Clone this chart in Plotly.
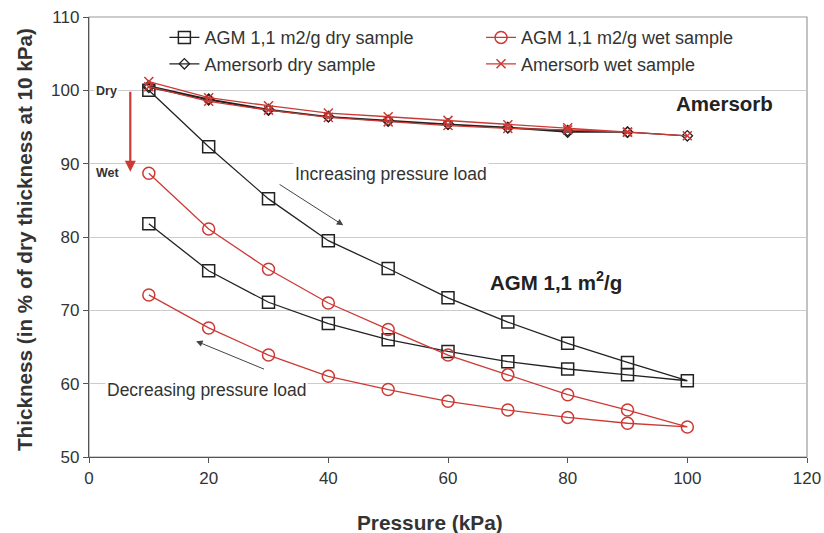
import plotly.graph_objects as go

# Pressure path: loading 10 -> 100 kPa, then unloading 90 -> 10 kPa
pressure = [10, 20, 30, 40, 50, 60, 70, 80, 90, 100, 90, 80, 70, 60, 50, 40, 30, 20, 10]

agm_dry = [100.0, 92.3, 85.2, 79.5, 75.7, 71.7, 68.4, 65.5, 62.9, 60.4,
           61.2, 62.0, 63.0, 64.4, 66.0, 68.2, 71.1, 75.4, 81.8]
agm_wet = [88.7, 81.1, 75.6, 71.0, 67.4, 63.9, 61.2, 58.5, 56.4, 54.1,
           54.6, 55.4, 56.4, 57.6, 59.2, 61.0, 63.9, 67.6, 72.1]
amersorb_dry = [100.4, 98.7, 97.3, 96.4, 95.8, 95.4, 94.9, 94.3, 94.3, 93.8,
                94.3, 94.5, 94.9, 95.4, 95.9, 96.4, 97.4, 98.8, 100.6]
amersorb_wet = [101.2, 99.0, 97.9, 96.9, 96.4, 95.9, 95.3, 94.9, 94.3, 93.8,
                94.3, 94.6, 94.8, 95.2, 95.7, 96.3, 97.3, 98.5, 100.5]

series_names = ["AGM 1,1 m2/g dry sample", "Amersorb dry sample",
                "AGM 1,1 m2/g wet sample", "Amersorb wet sample"]

x_ticks = [0, 20, 40, 60, 80, 100, 120]
y_ticks = [50, 60, 70, 80, 90, 100, 110]

BLACK = "#222222"
RED = "#cc3a35"
FONT = "Arial, Liberation Sans, sans-serif"

fig = go.Figure()

fig.add_trace(go.Scatter(x=pressure, y=agm_dry, name=series_names[0], mode="lines+markers",
                         line=dict(color=BLACK, width=1.3),
                         marker=dict(symbol="square-open", size=12, color=BLACK, line=dict(width=1.5)),
                         legend="legend"))
fig.add_trace(go.Scatter(x=pressure, y=amersorb_dry, name=series_names[1], mode="lines+markers",
                         line=dict(color=BLACK, width=1.3),
                         marker=dict(symbol="diamond-open", size=8, color=BLACK, line=dict(width=1.3)),
                         legend="legend"))
fig.add_trace(go.Scatter(x=pressure, y=agm_wet, name=series_names[2], mode="lines+markers",
                         line=dict(color=RED, width=1.3),
                         marker=dict(symbol="circle-open", size=12, color=RED, line=dict(width=1.5)),
                         legend="legend2"))
fig.add_trace(go.Scatter(x=pressure, y=amersorb_wet, name=series_names[3], mode="lines+markers",
                         line=dict(color=RED, width=1.3),
                         marker=dict(symbol="x-thin-open", size=9, color=RED, line=dict(width=1.5, color=RED)),
                         legend="legend2"))

annotations = [
    dict(x=50.4, y=88.6, text="Increasing pressure load", showarrow=False,
         font=dict(size=17.5, color="#333333"), bgcolor="white"),
    dict(x=19.7, y=59.2, text="Decreasing pressure load", showarrow=False,
         font=dict(size=17.5, color="#333333"), bgcolor="white"),
    dict(x=106.2, y=98.2, text="<b>Amersorb</b>", showarrow=False,
         font=dict(size=20.5, color="#222222")),
    dict(x=78.0, y=74.0, text="<b>AGM 1,1 m<sup>2</sup>/g</b>", showarrow=False,
         font=dict(size=20.5, color="#222222")),
    dict(x=3.0, y=99.9, text="<b>Dry</b>", showarrow=False,
         font=dict(size=12.5, color="#333333"), bgcolor="white"),
    dict(x=3.2, y=88.7, text="<b>Wet</b>", showarrow=False,
         font=dict(size=12.5, color="#333333"), bgcolor="white"),
    # axis titles
    dict(xref="paper", yref="paper", x=0.475, y=-0.148, xanchor="center", yanchor="middle",
         text="<b>Pressure (kPa)</b>", showarrow=False, font=dict(size=20.8, color="#333333")),
    dict(xref="paper", yref="paper", x=-0.0905, y=0.493, xanchor="center", yanchor="middle",
         textangle=-90, text="<b>Thickness (in % of dry thickness at 10 kPa)</b>", showarrow=False,
         font=dict(size=20.7, color="#333333")),
    # arrows
    dict(x=42.5, y=81.6, ax=31.6, ay=87.3, axref="x", ayref="y", xref="x", yref="y",
         text="", showarrow=True, arrowhead=2, arrowsize=1.3, arrowwidth=1, arrowcolor="#444444"),
    dict(x=17.9, y=65.8, ax=29.5, ay=61.9, axref="x", ayref="y", xref="x", yref="y",
         text="", showarrow=True, arrowhead=2, arrowsize=1.3, arrowwidth=1, arrowcolor="#444444"),
    dict(x=6.9, y=88.9, ax=6.9, ay=100.0, axref="x", ayref="y", xref="x", yref="y",
         text="", showarrow=True, arrowhead=2, arrowsize=1.0, arrowwidth=2.2, arrowcolor=RED),
]

fig.update_layout(
    width=824, height=533,
    margin=dict(l=89, r=17, t=17, b=76, autoexpand=False),
    paper_bgcolor="white", plot_bgcolor="white",
    font=dict(family=FONT, size=15, color="#333333"),
    showlegend=True,
    legend=dict(x=0.105, y=0.995, xanchor="left", yanchor="top", bgcolor="rgba(255,255,255,0)",
                font=dict(size=18, color="#333333"), tracegroupgap=0, itemwidth=30),
    legend2=dict(x=0.546, y=0.995, xanchor="left", yanchor="top", bgcolor="rgba(255,255,255,0)",
                 font=dict(size=18, color="#333333"), tracegroupgap=0, itemwidth=30),
    annotations=annotations,
    shapes=[dict(type="rect", xref="paper", yref="paper", x0=0, y0=0, x1=1, y1=1,
                 line=dict(color="#999999", width=1.2), layer="below")],
)

fig.update_xaxes(range=[0, 120], tickvals=x_ticks, ticks="outside", ticklen=5,
                 tickcolor="#555555", showline=True, linecolor="#555555", linewidth=1.3,
                 showgrid=False, zeroline=False, automargin=False,
                 tickfont=dict(size=17, color="#333333"))
fig.update_yaxes(range=[50, 110], tickvals=y_ticks, ticks="outside", ticklen=5,
                 tickcolor="#555555", showline=True, linecolor="#555555", linewidth=1.3,
                 showgrid=True, gridcolor="#cccccc", gridwidth=1, zeroline=False, automargin=False,
                 tickfont=dict(size=17, color="#333333"))

fig.write_html("out.html")
